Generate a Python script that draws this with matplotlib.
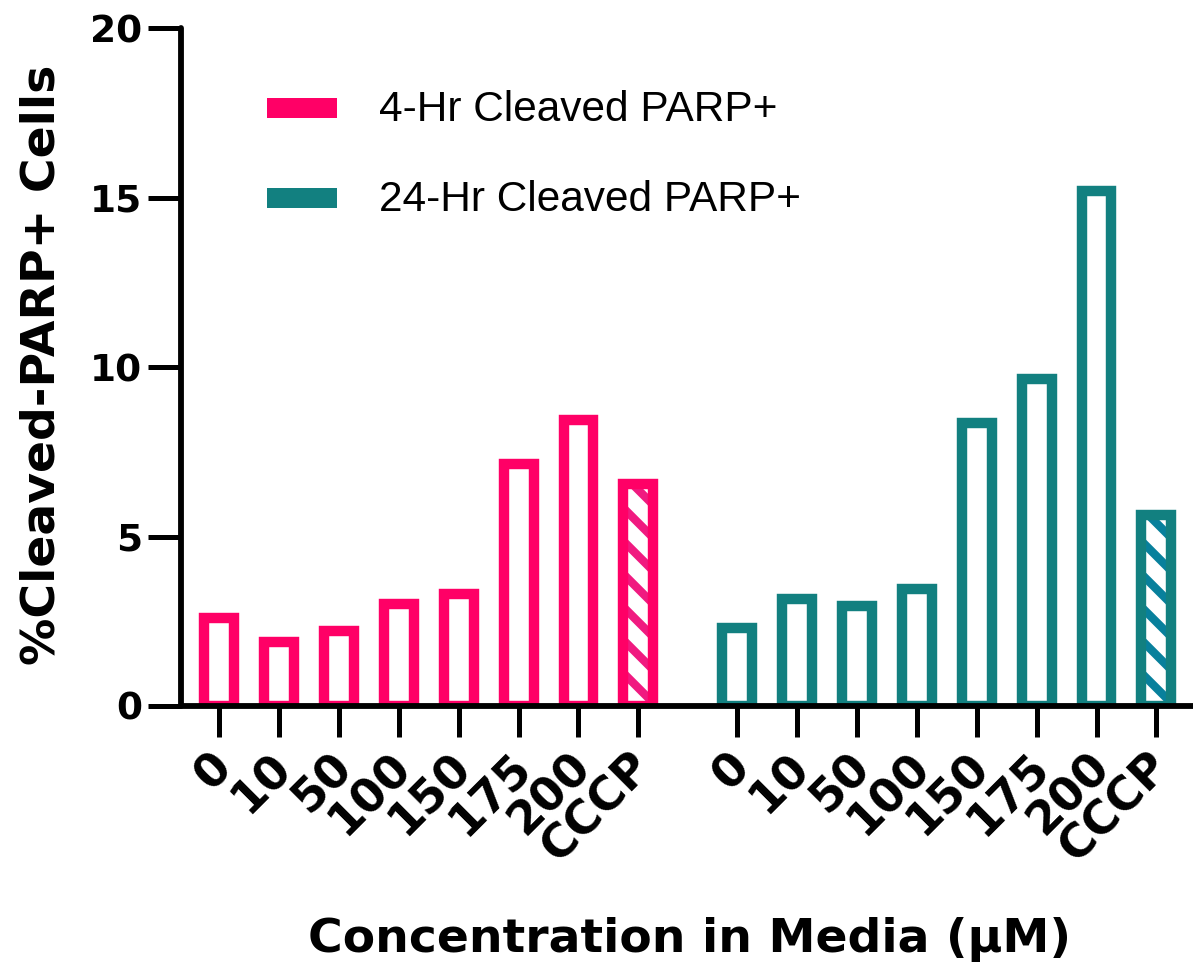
import matplotlib
matplotlib.use("Agg")
import matplotlib.pyplot as plt
from matplotlib.lines import Line2D
from matplotlib.patches import Rectangle
from matplotlib.transforms import IdentityTransform, ScaledTranslation
import numpy as np

# ---- data -------------------------------------------------------------
concentrations = ["0", "10", "50", "100", "150", "175", "200", "CCCP"]
parp_4hr = [2.6, 1.9, 2.2, 3.0, 3.3, 7.15, 8.45, 6.55]
parp_24hr = [2.3, 3.15, 2.95, 3.45, 8.35, 9.65, 15.2, 5.65]
series_labels = ["4-Hr Cleaved PARP+", "24-Hr Cleaved PARP+"]
y_ticks = [0, 5, 10, 15, 20]

# ---- style ------------------------------------------------------------
pink = "#FF0066"
teal = "#128080"
pink_stripe = "#F01A80"
teal_stripe = "#08809C"
bold_font = "DejaVu Sans"
legend_font = "Liberation Sans"

W, H, DPI = 1193, 966, 100
fig = plt.figure(figsize=(W / DPI, H / DPI), dpi=DPI)
ax = fig.add_axes([181 / W, 1 - 706 / H, 1 - 181 / W, (706 - 28.3) / H])

n = len(concentrations)
group_gap = 1.654
pos_4hr = np.arange(n, dtype=float)
pos_24hr = pos_4hr + n + group_gap - 1
bar_w = 0.5
edge_lw = 7.5

ax.set_xlim(-0.64, pos_24hr[-1] + 0.612)
ax.set_ylim(0, 20)


def add_stripes(bar, color, spacing=33.0, lw=6.0):
    (x0, y0) = ax.transData.transform((bar.get_x(), 0))
    (x1, y1) = ax.transData.transform((bar.get_x() + bar.get_width(), bar.get_height()))
    for c in np.arange(x0 + y0 - spacing, x1 + y1 + spacing, spacing):
        xs = np.array([x0 - 60, x1 + 60])
        ys = c - xs
        ln = Line2D(xs, ys, color=color, lw=lw, transform=IdentityTransform(),
                    solid_capstyle="butt", zorder=2)
        ax.add_line(ln)
        ln.set_clip_path(bar)


def outline_bars(positions, values, color, stripe_color):
    bars = ax.bar(positions, values, width=bar_w, facecolor="none",
                  edgecolor=color, linewidth=edge_lw, zorder=3)
    for b in bars:
        b.set_joinstyle("miter")
    # the control (last) bar gets diagonal stripes
    add_stripes(bars[-1], stripe_color)
    return bars


outline_bars(pos_4hr, parp_4hr, pink, pink_stripe)
outline_bars(pos_24hr, parp_24hr, teal, teal_stripe)

# ---- axes styling -----------------------------------------------------
for side in ("top", "right"):
    ax.spines[side].set_visible(False)
for side in ("left", "bottom"):
    ax.spines[side].set_linewidth(4.2)
    ax.spines[side].set_zorder(5)
    ax.spines[side].set_capstyle("round")

ax.set_yticks(y_ticks)
ax.set_yticklabels([str(v) for v in y_ticks], fontfamily=bold_font,
                   fontweight="bold", fontsize=27)
ax.tick_params(axis="y", length=24, width=3.6, pad=4)

ax.set_xticks(np.concatenate([pos_4hr, pos_24hr]))
ax.set_xticklabels(concentrations * 2, rotation=45, ha="right", va="center",
                   rotation_mode="anchor", fontfamily=bold_font,
                   fontweight="bold", fontsize=33)
ax.tick_params(axis="x", length=22, width=3.6, pad=17)
shift = ScaledTranslation(6 / DPI, 0, fig.dpi_scale_trans)
for lab in ax.get_xticklabels():
    lab.set_transform(lab.get_transform() + shift)

fig.text(42 / W, 1 - 365 / H, "%Cleaved-PARP+ Cells", rotation=90,
         ha="center", va="center", fontfamily=bold_font, fontweight="bold",
         fontsize=34)
fig.text(690 / W, 1 - 940 / H, "Concentration in Media (µM)", ha="center",
         va="center", fontfamily=bold_font, fontweight="bold", fontsize=34)

# ---- legend -----------------------------------------------------------
for i, (lab, col) in enumerate(zip(series_labels, [pink, teal])):
    yc = 108 + 90 * i
    fig.add_artist(Rectangle((267 / W, 1 - (yc + 10) / H), 70 / W, 20 / H,
                             transform=fig.transFigure, facecolor=col,
                             edgecolor="none"))
    fig.text(379 / W, 1 - (yc + 2) / H, lab, ha="left", va="center",
             fontfamily=legend_font, fontsize=30.5)

fig.savefig("out.png", dpi=DPI)
